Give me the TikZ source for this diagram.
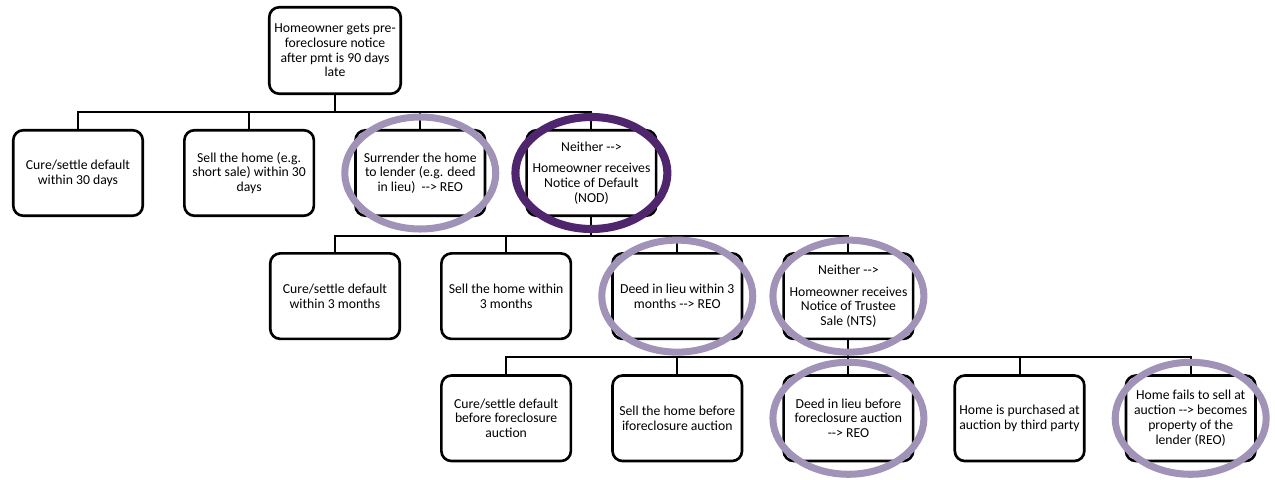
\documentclass[tikz,border=0pt]{standalone}
\usepackage{fontspec}
\setmainfont{Carlito}
\usetikzlibrary{positioning}

\definecolor{ringlight}{RGB}{161,146,184}
\definecolor{ringdark}{RGB}{79,37,110}

\begin{document}
\begin{tikzpicture}[
    stepbox/.style={draw, line width=1.5pt, rounded corners=0.2cm, fill=white,
      minimum width=2.59cm, minimum height=1.71cm, inner sep=2pt, align=center,
      font=\fontsize{7.8}{8.4}\selectfont},
    link/.style={line width=1.1pt},
    ring/.style={draw=ringlight, line width=4pt},
    darkring/.style={draw=ringdark, line width=4.6pt}
  ]
  \useasboundingbox (0,0) rectangle (25.5,9.58);

  % top of the tree
  \node[stepbox, minimum width=2.63cm, minimum height=1.73cm] (notice) at (6.70,8.57)
    {Homeowner gets pre-\\foreclosure notice\\after pmt is 90 days\\late};

  % first level
  \node[stepbox] (cure1) at (1.56,6.12) {Cure/settle default\\within 30 days};
  \node[stepbox, right=0.78cm of cure1] (sell1) {Sell the home (e.g.\\short sale) within 30\\days};
  \node[stepbox, right=0.78cm of sell1] (surrender) {Surrender the home\\to lender (e.g. deed\\in lieu) \ -{}-> REO};
  \node[stepbox, right=0.78cm of surrender] (nod) {Neither -{}->\\[4pt]Homeowner receives\\Notice of Default\\(NOD)};

  % second level
  \node[stepbox, below=3.14cm of notice] (cure2) {Cure/settle default\\within 3 months};
  \node[stepbox, right=0.78cm of cure2] (sell2) {Sell the home within\\3 months};
  \node[stepbox, right=0.78cm of sell2] (deed2) {Deed in lieu within 3\\months -{}-> REO};
  \node[stepbox, right=0.78cm of deed2] (nts) {Neither -{}->\\[4pt]Homeowner receives\\Notice of Trustee\\Sale (NTS)};

  % third level
  \node[stepbox, below=0.68cm of sell2] (cure3) {Cure/settle default\\before foreclosure\\auction};
  \node[stepbox, right=0.78cm of cure3] (sell3) {Sell the home before\\iforeclosure auction};
  \node[stepbox, right=0.78cm of sell3] (deed3) {Deed in lieu before\\foreclosure auction\\-{}-> REO};
  \node[stepbox, right=0.78cm of deed3] (bought) {Home is purchased at\\auction by third party};
  \node[stepbox, right=0.78cm of bought] (lenderreo) {Home fails to sell at\\auction -{}-> becomes\\property of the\\lender (REO)};

  % branches
  \draw[link] (notice.south) -- ++(0,-0.34) coordinate (bus1);
  \foreach \kid in {cure1, sell1, surrender, nod}
    \draw[link] (\kid.north) |- (bus1);
  \draw[link] (nod.south) -- ++(0,-0.38) coordinate (bus2);
  \foreach \kid in {cure2, sell2, deed2, nts}
    \draw[link] (\kid.north) |- (bus2);
  \draw[link] (nts.south) -- ++(0,-0.34) coordinate (bus3);
  \foreach \kid in {cure3, sell3, deed3, bought, lenderreo}
    \draw[link] (\kid.north) |- (bus3);

  % rings
  \foreach \hit in {surrender, deed2, nts, deed3, lenderreo}
    \draw[ring] (\hit.center) ellipse[x radius=1.51, y radius=1.12];
  \draw[darkring] (nod.center) ellipse[x radius=1.52, y radius=1.12];
\end{tikzpicture}
\end{document}
